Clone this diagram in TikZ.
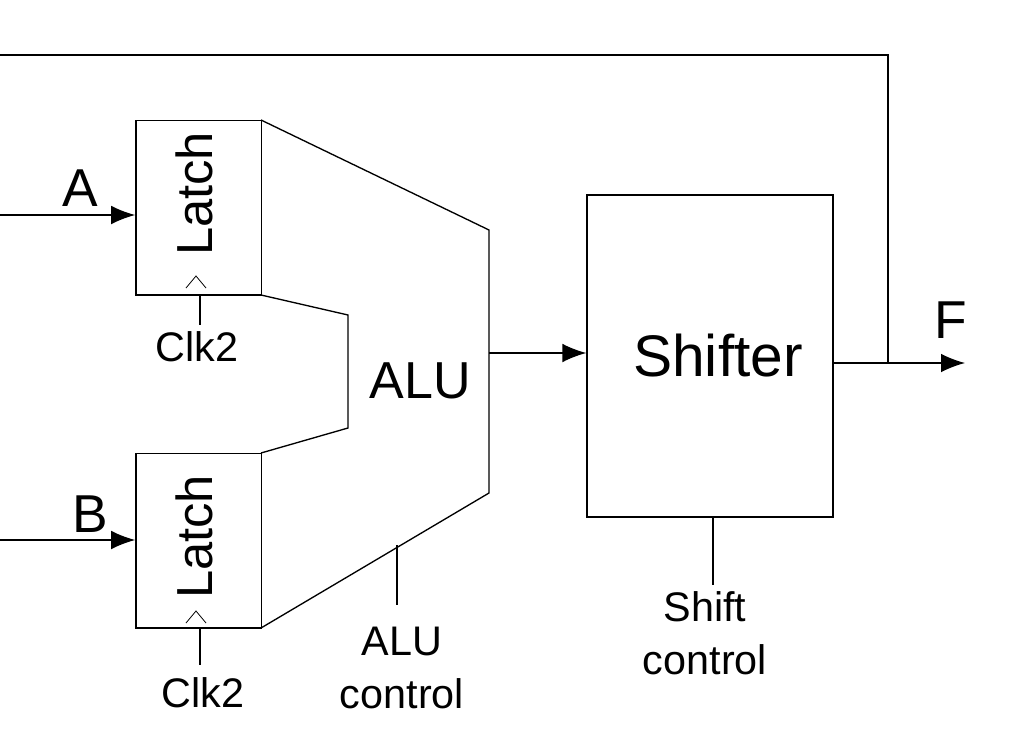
\documentclass[tikz,border=0pt]{standalone}
\usepackage{fontspec}
\setmainfont{Liberation Sans}
\usetikzlibrary{arrows.meta}
\begin{document}
\begin{tikzpicture}[x=0.75pt,y=-0.75pt,line width=1pt,
  arr/.style={-{Latex[length=18pt,width=14pt]}},
  lbl/.style={font=\fontsize{31}{40}\selectfont, align=center},
  big/.style={font=\fontsize{40}{44}\selectfont}]
\useasboundingbox (0,0) rectangle (1024,749);
% latches
\node[draw,minimum width=94pt,minimum height=131pt,inner sep=0pt] (la) at (198.5,207.5) {};
\node[draw,minimum width=94pt,minimum height=131pt,inner sep=0pt] (lb) at (198.5,540.5) {};
\node[rotate=90,font=\fontsize{38}{42}\selectfont] at (194,194) {Latch};
\node[rotate=90,font=\fontsize{38}{42}\selectfont] at (194,537) {Latch};
% clocks
\draw[line width=0.6pt] (186,288) -- (196,276) -- (206,288);
\draw[line width=0.6pt] (186,623) -- (196,611) -- (206,623);
\coordinate (ca) at (200,325); \coordinate (cb) at (200,665);
\draw (200,295) -- (ca);
\draw (200,628) -- (cb);
\node[lbl,anchor=north] (clka) at (197,326) {Clk2};
\node[lbl,anchor=north] (clkb) at (203,672) {Clk2};
% inputs
\coordinate (ia) at (0,215); \coordinate (ib) at (0,540);
\draw[arr] (ia) -- (la.west |- ia);
\draw[arr] (ib) -- (lb.west |- ib);
\node[big] at (80,188) {A};
\node[big] at (90,514) {B};
% ALU
\draw (261,120) -- (489,230) -- (489,493) -- (261,628);
\draw (261,295) -- (348,315) -- (348,428) -- (261,453);
\node[font=\fontsize{39}{42}\selectfont] (alu) at (420,381) {ALU};
\draw (397,545) -- (397,605);
\node[lbl,anchor=north] at (402,622) {ALU\\control};
% shifter
\node[draw,minimum width=184.5pt,minimum height=241.5pt,inner sep=0pt] (sh) at (710,356) {};
\node[font=\fontsize{44}{48}\selectfont] at (718,356) {Shifter};
\draw[arr] (489,353) -- (sh.west |- 0,353);
\draw (713,517) -- (713,585);
\node[lbl,anchor=north] at (705,586) {Shift\\control};
% output and feedback
\coordinate (fo) at (965,363);
\draw[arr] (sh.east |- fo) -- (fo);
\draw (888,363) -- (888,55) -- (0,55);
\node[big] at (951,320) {F};
\end{tikzpicture}
\end{document}
